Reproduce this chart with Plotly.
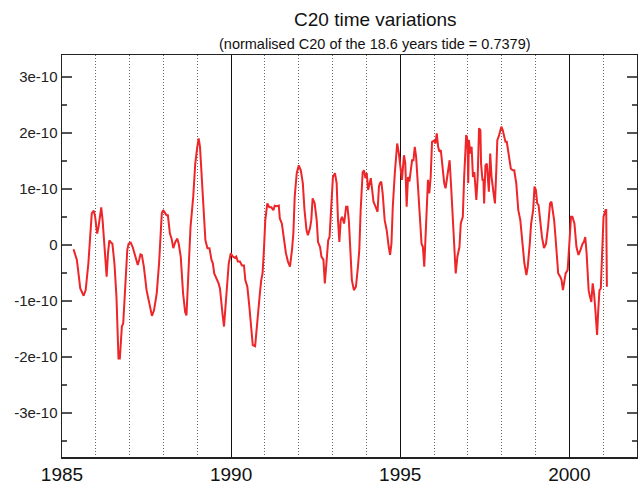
import plotly.graph_objects as go

# time in decimal years, C20 variation in units of 1e-10
years = [
    1985.34, 1985.44, 1985.54, 1985.64, 1985.70, 1985.78, 1985.88, 1985.94, 1985.98, 1986.04,
    1986.08, 1986.16, 1986.20, 1986.26, 1986.32, 1986.36, 1986.40, 1986.45, 1986.49, 1986.55,
    1986.61, 1986.67, 1986.71, 1986.77, 1986.81, 1986.87, 1986.93, 1986.97, 1987.03, 1987.09,
    1987.17, 1987.24, 1987.28, 1987.32, 1987.36, 1987.42, 1987.50, 1987.58, 1987.66, 1987.72,
    1987.80, 1987.87, 1987.95, 1987.99, 1988.09, 1988.13, 1988.19, 1988.24, 1988.29, 1988.35,
    1988.41, 1988.45, 1988.51, 1988.58, 1988.64, 1988.68, 1988.74, 1988.80, 1988.88, 1988.94,
    1989.00, 1989.04, 1989.08, 1989.12, 1989.16, 1989.20, 1989.24, 1989.30, 1989.36, 1989.42,
    1989.46, 1989.50, 1989.55, 1989.63, 1989.67, 1989.71, 1989.75, 1989.79, 1989.83, 1989.87,
    1989.93, 1989.99, 1990.05, 1990.11, 1990.15, 1990.20, 1990.26, 1990.32, 1990.38, 1990.42,
    1990.48, 1990.54, 1990.60, 1990.64, 1990.71, 1990.77, 1990.85, 1990.89, 1990.93, 1990.97,
    1991.01, 1991.07, 1991.13, 1991.19, 1991.25, 1991.29, 1991.35, 1991.41, 1991.44, 1991.50,
    1991.56, 1991.62, 1991.68, 1991.74, 1991.80, 1991.84, 1991.88, 1991.94, 1992.00, 1992.06,
    1992.12, 1992.17, 1992.23, 1992.27, 1992.33, 1992.37, 1992.41, 1992.47, 1992.53, 1992.57,
    1992.63, 1992.67, 1992.73, 1992.77, 1992.81, 1992.87, 1992.91, 1992.95, 1993.01, 1993.07,
    1993.12, 1993.16, 1993.20, 1993.24, 1993.28, 1993.34, 1993.40, 1993.44, 1993.48, 1993.54,
    1993.57, 1993.63, 1993.69, 1993.75, 1993.79, 1993.83, 1993.89, 1993.93, 1993.97, 1994.01,
    1994.05, 1994.13, 1994.17, 1994.21, 1994.27, 1994.33, 1994.37, 1994.40, 1994.44, 1994.48,
    1994.54, 1994.60, 1994.66, 1994.70, 1994.74, 1994.78, 1994.84, 1994.88, 1994.91, 1994.96,
    1995.01, 1995.05, 1995.11, 1995.15, 1995.19, 1995.23, 1995.27, 1995.31, 1995.35, 1995.39,
    1995.43, 1995.47, 1995.53, 1995.57, 1995.63, 1995.67, 1995.71, 1995.74, 1995.78, 1995.82,
    1995.86, 1995.90, 1995.94, 1996.00, 1996.04, 1996.08, 1996.12, 1996.16, 1996.20, 1996.24,
    1996.30, 1996.34, 1996.40, 1996.46, 1996.51, 1996.57, 1996.64, 1996.69, 1996.75, 1996.79,
    1996.85, 1996.89, 1996.95, 1996.99, 1997.01, 1997.03, 1997.07, 1997.11, 1997.15, 1997.19,
    1997.25, 1997.29, 1997.33, 1997.37, 1997.39, 1997.43, 1997.46, 1997.48, 1997.52, 1997.56,
    1997.62, 1997.66, 1997.70, 1997.76, 1997.80, 1997.84, 1997.87, 1997.91, 1997.95, 1997.99,
    1998.03, 1998.07, 1998.11, 1998.15, 1998.21, 1998.27, 1998.33, 1998.37, 1998.43, 1998.49,
    1998.55, 1998.61, 1998.67, 1998.73, 1998.77, 1998.83, 1998.87, 1998.93, 1998.97, 1999.01,
    1999.05, 1999.09, 1999.13, 1999.19, 1999.25, 1999.31, 1999.37, 1999.43, 1999.47, 1999.51,
    1999.55, 1999.59, 1999.63, 1999.67, 1999.73, 1999.77, 1999.81, 1999.85, 1999.89, 1999.95,
    1999.99, 2000.05, 2000.09, 2000.15, 2000.21, 2000.27, 2000.33, 2000.39, 2000.43, 2000.47,
    2000.51, 2000.57, 2000.61, 2000.65, 2000.69, 2000.73, 2000.77, 2000.82, 2000.85, 2000.89,
    2000.93, 2000.97, 2001.01, 2001.07, 2001.09, 2001.11,
]
c20_e10 = [
    -0.08, -0.27, -0.78, -0.91, -0.81, -0.33, 0.56, 0.61, 0.50, 0.20,
    0.32, 0.67, 0.44, -0.15, -0.57, -0.15, 0.08, 0.04, 0.02, -0.33,
    -0.93, -2.03, -2.03, -1.46, -1.40, -0.75, -0.09, 0.02, 0.04, -0.04,
    -0.24, -0.36, -0.27, -0.17, -0.18, -0.39, -0.81, -1.02, -1.27, -1.17,
    -0.87, -0.33, 0.56, 0.62, 0.53, 0.53, 0.20, 0.11, -0.06, 0.05,
    0.11, 0.02, -0.21, -0.87, -1.20, -1.26, -0.51, 0.32, 0.86, 1.45,
    1.75, 1.90, 1.75, 1.33, 0.74, 0.32, 0.08, -0.06, -0.06, -0.27,
    -0.33, -0.51, -0.57, -0.69, -0.78, -1.11, -1.26, -1.46, -1.11, -0.75,
    -0.33, -0.15, -0.21, -0.23, -0.21, -0.30, -0.30, -0.37, -0.37, -0.63,
    -0.75, -1.11, -1.46, -1.79, -1.81, -1.46, -0.87, -0.63, -0.51, -0.09,
    0.44, 0.74, 0.67, 0.67, 0.62, 0.70, 0.69, 0.70, 0.47, 0.38,
    0.08, -0.15, -0.30, -0.39, -0.09, 0.20, 0.86, 1.28, 1.42, 1.33,
    1.10, 0.62, 0.26, 0.17, 0.29, 0.44, 0.83, 0.74, 0.44, 0.05,
    -0.04, -0.21, -0.27, -0.69, -0.39, 0.08, 0.14, 0.56, 1.21, 1.28,
    1.10, 0.44, 0.05, 0.44, 0.50, 0.38, 0.68, 0.68, 0.44, -0.27,
    -0.63, -0.81, -0.75, -0.39, -0.09, 0.62, 1.30, 1.33, 1.19, 1.28,
    0.98, 1.19, 1.01, 0.77, 0.68, 0.59, 1.04, 1.10, 1.13, 0.92,
    0.44, 0.26, -0.04, -0.18, 0.02, 0.68, 1.28, 1.69, 1.81, 1.63,
    1.30, 1.16, 1.60, 1.45, 0.68, 1.21, 1.13, 1.33, 1.51, 1.51,
    1.75, 1.57, 0.92, 0.62, 0.02, -0.04, -0.39, 0.02, 0.62, 1.16,
    0.92, 1.21, 1.84, 1.86, 1.81, 1.99, 1.75, 1.66, 1.69, 1.45,
    1.10, 1.01, 1.28, 1.51, 0.98, 0.32, -0.51, -0.21, -0.04, 0.38,
    0.50, 1.21, 1.96, 1.87, 1.10, 1.87, 1.63, 1.75, 1.21, 1.30,
    0.80, 1.21, 2.08, 2.05, 1.45, 1.16, 1.16, 0.74, 1.42, 1.45,
    0.95, 1.63, 1.21, 0.92, 0.74, 1.33, 1.87, 1.93, 2.05, 2.11,
    2.05, 1.96, 1.84, 1.84, 1.57, 1.36, 1.33, 1.33, 1.10, 0.62,
    0.44, 0.02, -0.33, -0.54, -0.39, 0.02, 0.38, 0.62, 1.04, 0.98,
    0.74, 0.71, 0.44, 0.14, -0.06, 0.02, 0.32, 0.74, 0.77, 0.62,
    0.44, 0.14, -0.21, -0.51, -0.57, -0.63, -0.81, -0.63, -0.51, -0.45,
    0.02, 0.50, 0.50, 0.38, -0.04, -0.18, -0.09, 0.02, 0.05, 0.14,
    -0.15, -0.81, -0.93, -1.02, -0.69, -0.87, -1.17, -1.61, -1.22, -0.81,
    -0.78, -0.09, 0.50, 0.62, 0.62, -0.75,
]
SCALE = 1e-10
c20 = [v * SCALE for v in c20_e10]

y_tick_vals = [-3e-10, -2e-10, -1e-10, 0, 1e-10, 2e-10, 3e-10]
y_tick_text = ["-3e-10", "-2e-10", "-1e-10", "0", "1e-10", "2e-10", "3e-10"]

title_text = "C20 time variations"
subtitle_text = "(normalised C20 of the 18.6 years tide = 0.7379)"

FONT = "Liberation Sans, Arial, sans-serif"

fig = go.Figure()
fig.add_trace(go.Scatter(
    x=years, y=c20, mode="lines",
    line=dict(color="#EE2529", width=2),
    showlegend=False, hoverinfo="skip",
))

fig.update_layout(
    width=638, height=485,
    margin=dict(l=62, r=1, t=55, b=28, autoexpand=False),
    paper_bgcolor="white", plot_bgcolor="white",
    font=dict(family=FONT, color="#222"),
    hovermode=False,
    annotations=[
        dict(text=title_text, x=0.545, y=1, xref="paper", yref="paper",
             xanchor="center", yanchor="middle", yshift=36, showarrow=False,
             font=dict(family=FONT, size=19, color="#111")),
        dict(text=subtitle_text, x=0.545, y=1, xref="paper", yref="paper",
             xanchor="center", yanchor="middle", yshift=11, showarrow=False,
             font=dict(family=FONT, size=14.5, color="#111")),
    ],
)

fig.update_xaxes(
    range=[1985, 2002],
    tick0=1985, dtick=5, ticks="",
    tickfont=dict(size=19, family=FONT, color="#111"),
    showgrid=True, gridcolor="#111", gridwidth=1,
    minor=dict(tick0=1985, dtick=1, showgrid=True, griddash="1px,2px",
               gridcolor="#666", gridwidth=1, ticks=""),
    showline=True, linecolor="#222", linewidth=1.5, mirror=True,
    zeroline=False,
)
fig.update_yaxes(
    range=[-3.79e-10, 3.39e-10],
    tickvals=y_tick_vals, ticktext=y_tick_text,
    ticks="inside", ticklen=10, tickwidth=1.5, tickcolor="#555",
    tickfont=dict(size=15, color="#222"),
    minor=dict(dtick=0.5e-10, tick0=0, ticks="inside", ticklen=5,
               tickwidth=1.5, tickcolor="#555", showgrid=False),
    showgrid=False, zeroline=False,
    showline=True, linecolor="#222", linewidth=1.5, mirror="ticks",
)

fig.write_html(
    "out.html",
    config={"displayModeBar": False, "staticPlot": True},
    post_script="document.body.style.margin='0';document.body.style.overflow='hidden';",
)
